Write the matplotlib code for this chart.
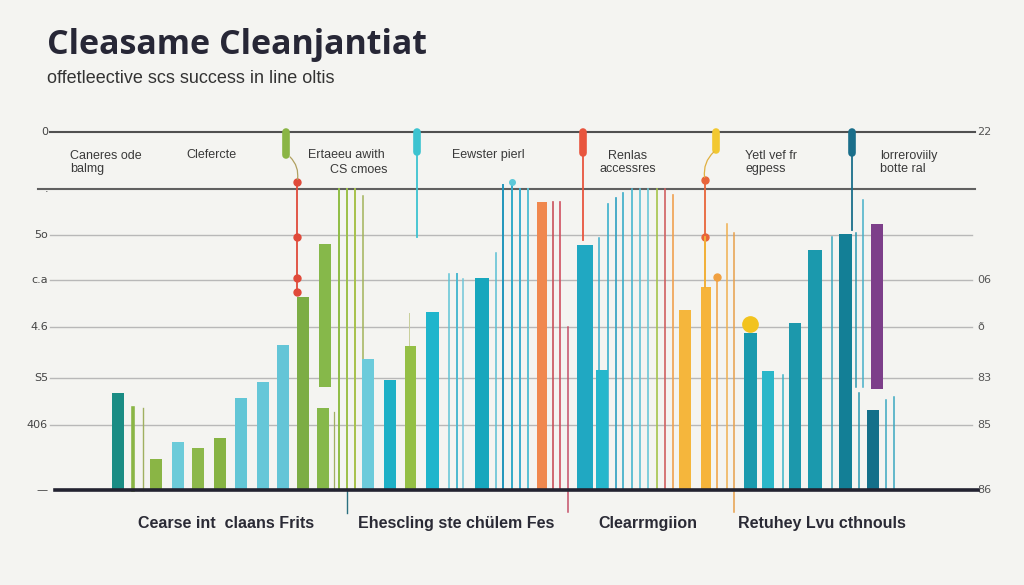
import matplotlib.pyplot as plt

# ---- data (values on a 0-100 scale, baseline = 0, top rule = 100) ----
title = "Cleasame Cleanjantiat"
subtitle = "offetleective scs success in line oltis"

left_ticks = ["0", ".", "5o", "c.a", "4.6", "S5", "406", "\u2014"]
right_ticks = ["22", "", "", "06", "\u00f0", "83", "85", "86"]
grid_levels = [100, 84.1, 71.2, 58.7, 45.5, 31.3, 18.2, 0]

header_labels = ["Caneres ode\nbalmg", "Clefercte", "Ertaeeu awith", "CS cmoes",
                 "Eewster pierl", "Renlas\naccessres", "Yetl vef fr\negpess",
                 "lorreroviily\nbotte ral"]
bottom_labels = ["Cearse int  claans Frits", "Ehescling ste chülem Fes",
                 "Clearrmgiion", "Retuhey Lvu cthnouls"]

# thick bars
bar_x = [118, 156, 178, 198, 220, 241, 263, 283, 303, 325, 323, 368, 390, 410,
         432, 482, 542, 585, 602, 685, 706, 750, 768, 795, 815, 845, 877, 873]
bar_top = [27.1, 8.7, 13.4, 11.7, 14.5, 25.7, 30.2, 40.5, 53.9, 68.7, 22.9, 36.6,
           30.7, 40.2, 49.7, 59.2, 80.4, 68.4, 33.5, 50.3, 56.7, 43.9, 33.2, 46.6,
           67.0, 71.5, 74.3, 22.3]
bar_bottom = [0, 0, 0, 0, 0, 0, 0, 0, 0, 28.8, 0, 0, 0, 0, 0, 0, 0, 0, 0, 0, 0,
              0, 0, 0, 0, 0, 28.2, 0]
bar_w = [12, 12, 12, 12, 12, 12, 12, 12, 12, 12, 12, 12, 12, 11, 13, 14, 10, 16,
         12, 12, 10, 13, 12, 12, 14, 13, 12, 12]
bar_colors = ["#1a8c84", "#8ab545", "#6ccbd9", "#8cb84a", "#86b342", "#62c6d6",
              "#66c7d8", "#64c5d7", "#7cad45", "#86b84a", "#86b84a", "#6ccbdb",
              "#1eb0c6", "#94bf45", "#1fb5cc", "#17a7bd", "#f0884e", "#20a8c2",
              "#26b7cc", "#f5b63c", "#f6b43a", "#1a9aae", "#2bb7c9", "#1c98ac",
              "#1b99ad", "#137f96", "#7d3f8a", "#14708a"]

# thin stems
stem_x = [133, 143, 334, 339, 347, 355, 363, 409, 449, 457, 463, 496, 503, 512,
          520, 528, 553, 560, 568, 599, 608, 616, 623, 632, 640, 648, 657, 665,
          673, 717, 727, 734, 783, 832, 856, 859, 863, 886, 894, 347]
stem_top = [22.9, 22.9, 21.8, 84.1, 84.1, 84.1, 82.1, 49.4, 60.3, 60.3, 58.9,
            66.2, 85.2, 85.2, 84.1, 84.1, 80.4, 80.4, 45.5, 70.4, 79.9, 81.6,
            83.0, 84.1, 84.1, 84.1, 84.1, 84.1, 82.4, 59.5, 74.3, 71.8, 32.1,
            70.7, 71.8, 27.1, 81.0, 25.1, 26.0, 0]
stem_bottom = [0, 0, 0, 0, 0, 0, 0, 40.2, 0, 0, 0, 0, 0, 0, 0, 0, 0, 0, -6.1,
               0, 0, 0, 0, 0, 0, 0, 0, 0, 0, 0, 0, -6.1, 0, 0, 28.8, 0, 28.8, 0,
               0, -6.4]
stem_lw = [2.6, 1.0, 0.9, 1.4, 1.4, 1.4, 1.1, 0.7, 1.1, 1.4, 1.1, 1.1, 1.4, 1.4,
           1.4, 1.4, 1.2, 1.2, 1.1, 1.1, 1.2, 1.2, 1.2, 1.2, 1.2, 1.2, 1.2, 1.2,
           1.2, 1.1, 1.1, 1.1, 1.1, 1.1, 1.1, 1.1, 1.1, 1.1, 1.1, 1.0]
stem_colors = ["#8ab545", "#a0b060", "#9fb060", "#8fbd44", "#9cc048", "#a6c14a",
               "#a2b35a", "#c8cf9a", "#5fc4d6", "#4cb9d0", "#70c6d8", "#58bfd3",
               "#2196bb", "#32aac8", "#3aaed0", "#58c0d5", "#c9505a", "#d05060",
               "#c55068", "#3aaecc", "#3ab0cc", "#2c9fc0", "#39acc8", "#48b6cf",
               "#5fc2d6", "#6ac8d8", "#a5c44b", "#d06060", "#f0a050", "#f0a040",
               "#f0b050", "#e8a04a", "#3ab5c8", "#3aa8be", "#2a98b0", "#2a98b0",
               "#45b0c8", "#3aa8c0", "#3aa8c0", "#2a7080"]

# pins hanging from the top rule: x, head bottom, line bottom, colours
pin_x = [286, 417, 583, 716, 852]
pin_head_end = [93.6, 94.4, 94.1, 95.0, 94.1]
pin_head_colors = ["#8ab545", "#3cc3d0", "#e8553e", "#f2c830", "#1a6e8a"]
pin_line_end = [93.6, 70.7, 69.8, 95.0, 72.6]

# red drop line under the green pin, and orange one under the yellow pin
drop_x = [297, 705]
drop_top = [86.0, 86.6]
drop_bottom = [55.0, 56.7]
drop_colors = ["#e04a3a", "#e8643a"]
drop_dots = [[86.0, 70.7, 59.2, 55.3], [86.6, 70.7]]

fig = plt.figure(figsize=(10.24, 5.85), dpi=100)
fig.patch.set_facecolor("#f4f4f1")
ax = fig.add_axes([0, 0, 1, 1])
ax.set_facecolor("#f4f4f1")
ax.set_xlim(0, 1024)
ax.set_ylim(-26.5, 136.9)
ax.axis("off")

# grid rules
for i, g in enumerate(grid_levels):
    if i == 0:
        ax.plot([50, 975], [g, g], color="#505050", lw=1.5, zorder=1)
    elif i == 1:
        ax.plot([38, 975], [g, g], color="#606060", lw=1.5, zorder=1)
    elif g == 0:
        ax.plot([55, 978], [g, g], color="#222230", lw=2.6, zorder=4)
    else:
        ax.plot([50, 972], [g, g], color="#b8b8b8", lw=1.0, zorder=1)

for lab, g in zip(left_ticks, grid_levels):
    ax.text(48, g, lab, ha="right", va="center", fontsize=8, color="#444444",
            family="DejaVu Sans")
for lab, g in zip(right_ticks, grid_levels):
    ax.text(977, g, lab, ha="left", va="center", fontsize=8, color="#555555",
            family="DejaVu Sans")

# bars and stems
ax.bar(bar_x, [t - b for t, b in zip(bar_top, bar_bottom)], width=bar_w,
       bottom=bar_bottom, color=bar_colors, zorder=3)
for x, t, b, lw, c in zip(stem_x, stem_top, stem_bottom, stem_lw, stem_colors):
    ax.plot([x, x], [b, t], color=c, lw=lw, zorder=2)

# pins
for x, he, le, c in zip(pin_x, pin_head_end, pin_line_end, pin_head_colors):
    if le < he:
        ax.plot([x, x], [le, 100], color=c, lw=1.3, zorder=5)
    ax.plot([x, x], [he, 100], color=c, lw=5.5, solid_capstyle="round", zorder=5)

for x, t, b, c, dots in zip(drop_x, drop_top, drop_bottom, drop_colors, drop_dots):
    ax.plot([x, x], [b, t], color=c, lw=1.3, zorder=5)
    ax.plot([x] * len(dots), dots, "o", color=c, ms=5, zorder=5)

# curved connectors from the pin heads to the drop lines
ax.annotate("", xy=(drop_x[0], drop_top[0]), xytext=(pin_x[0] + 2, pin_head_end[0]),
            arrowprops=dict(arrowstyle="-", color="#b0a060", lw=0.9,
                            connectionstyle="arc3,rad=-0.3"), zorder=5)
ax.annotate("", xy=(drop_x[1], drop_top[1]), xytext=(pin_x[3], pin_head_end[3]),
            arrowprops=dict(arrowstyle="-", color="#e0b040", lw=0.9,
                            connectionstyle="arc3,rad=0.3"), zorder=5)
ax.plot([705, 705], [56.7, 70.7], color="#f2b83a", lw=1.3, zorder=5)
ax.plot([717], [59.5], "o", color="#f0a040", ms=5, zorder=5)
ax.plot([512], [86.0], "o", color="#5cc8d8", ms=4, zorder=5)
ax.plot([750], [46.5], "o", color="#f2c31e", ms=11, zorder=6)

# header labels in the top band
hdr_pos = [(70, 91.5, "left"), (186, 93.6, "left"), (308, 93.6, "left"),
           (330, 89.4, "left"), (452, 93.6, "left"), (628, 91.5, "center"),
           (745, 91.5, "left"), (880, 91.5, "left")]
for lab, (x, y, ha) in zip(header_labels, hdr_pos):
    ax.text(x, y, lab, ha=ha, va="center", fontsize=9, color="#3a3a3a",
            family="Liberation Sans", linespacing=1.15)

# bottom category labels
for lab, x in zip(bottom_labels, [226, 456, 648, 822]):
    ax.text(x, -9.2, lab, ha="center", va="center", fontsize=11.5,
            fontweight="bold", color="#2a2a35", family="Liberation Sans")

ax.text(47, 124.3, title, ha="left", va="center", fontsize=24.5,
        fontweight="bold", color="#272736", family="Open Sans")
ax.text(47, 115.0, subtitle, ha="left", va="center", fontsize=13,
        color="#333333", family="Liberation Sans")

fig.savefig("out.png", dpi=100, facecolor=fig.get_facecolor())
